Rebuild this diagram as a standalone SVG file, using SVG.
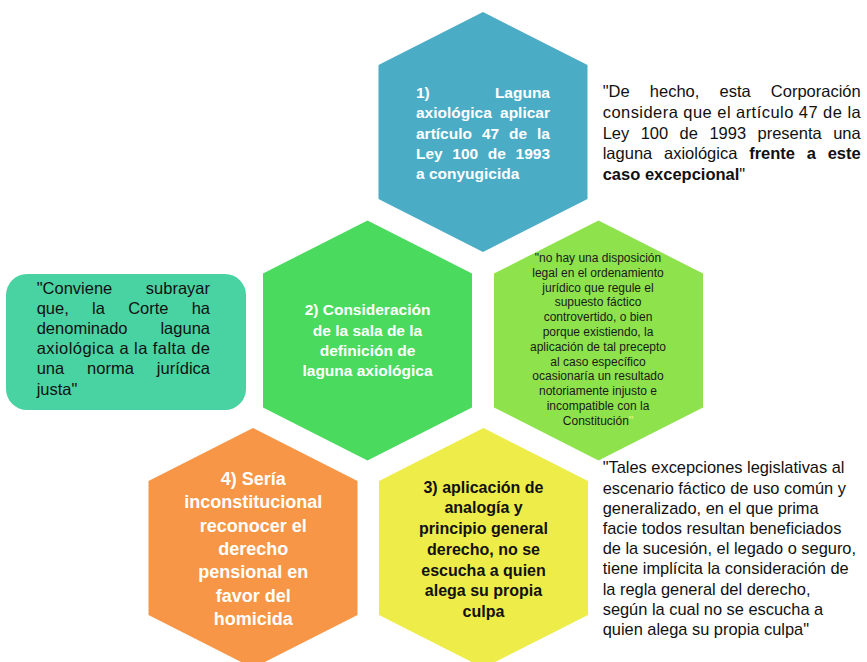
<svg xmlns="http://www.w3.org/2000/svg" width="867" height="662" viewBox="0 0 867 662">
<style>
text{font-family:"Liberation Sans",Arial,sans-serif}
.hb{font-weight:bold;font-size:15.5px;fill:#fff}
.hy{font-weight:bold;font-size:16px;fill:#111;text-anchor:middle}
.ho{font-weight:bold;font-size:18px;fill:#fff;text-anchor:middle}
.hs{font-size:12px;fill:#1a1a1a;text-anchor:middle}
.q{font-size:16.5px;fill:#111}
.r{font-size:16.4px}
.b{font-weight:bold}
.e{text-anchor:end}
.m{text-anchor:middle}
</style>
<defs>
<path id="hex" d="M0,-120 L104.5,-67 L104.5,67 L0,120 L-104.5,67 L-104.5,-67 Z"/>
</defs>
<rect width="867" height="662" fill="#fff"/>
<g id="connectors"/>

<g id="hex1">
<use href="#hex" x="483" y="132" fill="#4BACC6"/>
<text class="hb" y="98"><tspan x="416">1)</tspan><tspan x="550" class="e">Laguna</tspan></text>
<text class="hb" y="118.3"><tspan x="416">axiológica</tspan><tspan x="550" class="e">aplicar</tspan></text>
<text class="hb" y="138.6"><tspan x="416">artículo</tspan><tspan x="481.9">47</tspan><tspan x="509.1">de</tspan><tspan x="550" class="e">la</tspan></text>
<text class="hb" y="159"><tspan x="416">Ley</tspan><tspan x="452.3">100</tspan><tspan x="487.8">de</tspan><tspan x="550" class="e">1993</tspan></text>
<text class="hb" x="416" y="179.3">a conyugicida</text>
</g>

<g id="quote1">
<text class="q" y="97"><tspan x="602.7">"De</tspan><tspan x="649.8">hecho,</tspan><tspan x="719.5">esta</tspan><tspan x="860.7" class="e">Corporación</tspan></text>
<text class="q" x="602.7" y="117.8" textLength="258" lengthAdjust="spacing">considera que el artículo 47 de la</text>
<text class="q" y="138.6"><tspan x="602.7">Ley</tspan><tspan x="640.7">100</tspan><tspan x="679.6">de</tspan><tspan x="709.4">1993</tspan><tspan x="757.5">presenta</tspan><tspan x="860.7" class="e">una</tspan></text>
<text class="q" y="159.4"><tspan x="602.7">laguna</tspan><tspan x="664">axiológica</tspan><tspan x="749.2" class="b">frente</tspan><tspan x="806.8" class="b">a</tspan><tspan x="860.7" class="b e">este</tspan></text>
<text class="q" x="602.7" y="180.2"><tspan class="b">caso excepcional</tspan><tspan>"</tspan></text>
</g>

<g id="hex2">
<use href="#hex" x="367.5" y="340.5" fill="#49DA5E"/>
<text class="hb m" x="367.5" y="315">2) Consideración</text>
<text class="hb m" x="367.5" y="335.5">de la sala de la</text>
<text class="hb m" x="367.5" y="355.7">definición de</text>
<text class="hb m" x="367.5" y="376">laguna axiológica</text>
</g>

<g id="hex3">
<use href="#hex" x="598.5" y="340.5" fill="#8EE24C"/>
<text class="hs" x="598" y="262">"no hay una disposición</text>
<text class="hs" x="598" y="276.8">legal en el ordenamiento</text>
<text class="hs" x="598" y="291.6">jurídico que regule el</text>
<text class="hs" x="598" y="306.4">supuesto fáctico</text>
<text class="hs" x="598" y="321.2">controvertido, o bien</text>
<text class="hs" x="598" y="336">porque existiendo, la</text>
<text class="hs" x="598" y="350.8">aplicación de tal precepto</text>
<text class="hs" x="598" y="365.6">al caso específico</text>
<text class="hs" x="598" y="380.4">ocasionaría un resultado</text>
<text class="hs" x="598" y="395.2">notoriamente injusto e</text>
<text class="hs" x="598" y="410">incompatible con la</text>
<text class="hs" x="598" y="424.8">Constitución<tspan fill="#E4F5B8">"</tspan></text>
</g>

<g id="quote2">
<rect x="6" y="274" width="240" height="136" rx="21" fill="#49D2A2"/>
<text class="q" y="294.3"><tspan x="36.7">"Conviene</tspan><tspan x="210" class="e">subrayar</tspan></text>
<text class="q" y="314.3"><tspan x="36.7">que,</tspan><tspan x="92.1">la</tspan><tspan x="128.2">Corte</tspan><tspan x="210" class="e">ha</tspan></text>
<text class="q" y="334.3"><tspan x="36.7">denominado</tspan><tspan x="210" class="e">laguna</tspan></text>
<text class="q" x="36.7" y="354.3" textLength="173.3" lengthAdjust="spacing">axiológica a la falta de</text>
<text class="q" y="374.3"><tspan x="36.7">una</tspan><tspan x="87.1">norma</tspan><tspan x="210" class="e">jurídica</tspan></text>
<text class="q" x="36.7" y="395">justa"</text>
</g>

<g id="hex4">
<use href="#hex" x="253" y="548" fill="#F79646"/>
<text class="ho" x="253.3" y="485">4) Sería</text>
<text class="ho" x="253.3" y="508.3">inconstitucional</text>
<text class="ho" x="253.3" y="531.6">reconocer el</text>
<text class="ho" x="253.3" y="555">derecho</text>
<text class="ho" x="253.3" y="578.3">pensional en</text>
<text class="ho" x="253.3" y="601.6">favor del</text>
<text class="ho" x="253.3" y="625">homicida</text>
</g>

<g id="hex5">
<use href="#hex" x="483.5" y="548" fill="#EEEC48"/>
<text class="hy" x="483.5" y="492.7">3) aplicación de</text>
<text class="hy" x="483.5" y="513.4">analogía y</text>
<text class="hy" x="483.5" y="534.1">principio general</text>
<text class="hy" x="483.5" y="554.8">derecho, no se</text>
<text class="hy" x="483.5" y="575.5">escucha a quien</text>
<text class="hy" x="483.5" y="596.2">alega su propia</text>
<text class="hy" x="483.5" y="617">culpa</text>
</g>

<g id="quote3">
<text class="q r" x="602.7" y="473.3">"Tales excepciones legislativas al</text>
<text class="q r" x="602.7" y="493.5">escenario fáctico de uso común y</text>
<text class="q r" x="602.7" y="513.7">generalizado, en el que prima</text>
<text class="q r" x="602.7" y="533.9">facie todos resultan beneficiados</text>
<text class="q r" x="602.7" y="554.1">de la sucesión, el legado o seguro,</text>
<text class="q r" x="602.7" y="574.3">tiene implícita la consideración de</text>
<text class="q r" x="602.7" y="594.5">la regla general del derecho,</text>
<text class="q r" x="602.7" y="614.7">según la cual no se escucha a</text>
<text class="q r" x="602.7" y="635">quien alega su propia culpa"</text>
</g>
</svg>
